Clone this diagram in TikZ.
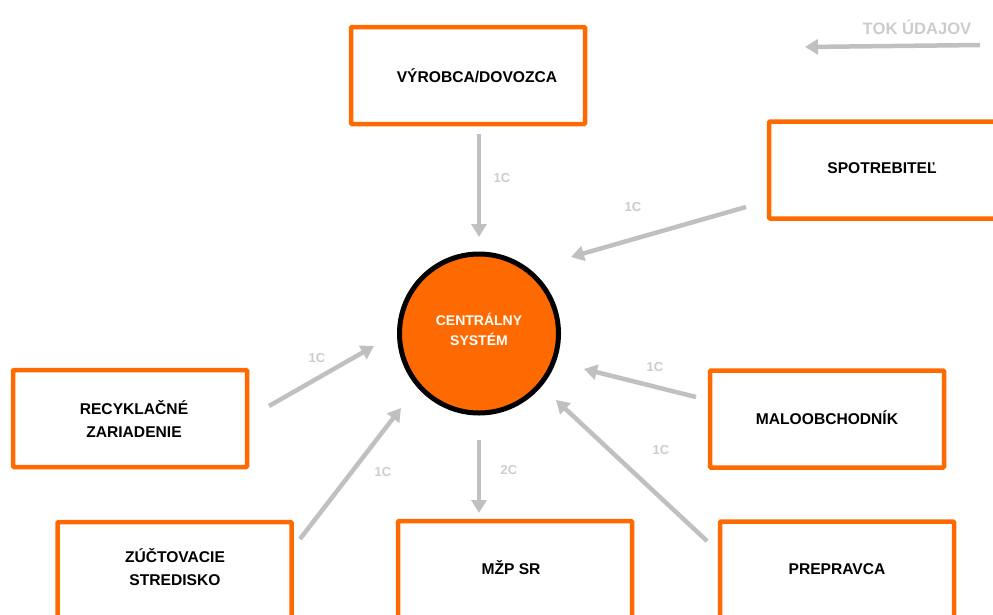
\documentclass[tikz,border=0pt]{standalone}
\usepackage{fontspec}
\setmainfont{Liberation Sans}
\usetikzlibrary{arrows.meta}
\definecolor{brandorange}{HTML}{FF6A00}
\definecolor{flowgrey}{HTML}{C0C0C0}
\definecolor{labelgrey}{HTML}{CCCCCC}
\tikzset{
  actorbox/.style={draw=brandorange,line width=4.5pt,fill=white,rounded corners=1pt,minimum width=234pt,minimum height=97pt,inner sep=0pt,outer sep=0pt},
  actortext/.style={font=\fontsize{15.6}{23}\selectfont\bfseries,text=black,align=center,inner sep=0pt},
  hubtext/.style={font=\fontsize{14}{20}\selectfont\bfseries,text=white,align=center,inner sep=0pt},
  flowlabel/.style={font=\fontsize{13}{15}\selectfont\bfseries,text=labelgrey,inner sep=0pt},
  flow/.style={draw=flowgrey,line width=4.5pt,-{Triangle[length=13pt,width=15pt]}},
  hub/.style={circle,draw=black,line width=5pt,fill=brandorange,minimum size=159pt,inner sep=0pt,outer sep=0pt}
}
\begin{document}
\begin{tikzpicture}[x=1pt,y=-1pt]
\clip (0,0) rectangle (993,614);
\node[hub] (sys) at (479,333.5) {};
\node[hubtext] (systext) at (479,329) {CENTRÁLNY\\SYSTÉM};
\node[actorbox] (vyrobca) at (468,75.5) {};
\node[actortext] (vyrobcat) at (477,76) {VÝROBCA/DOVOZCA};
\node[actorbox] (spotreb) at (886,170) {};
\node[actortext] (spotrebt) at (882,168) {SPOTREBITEĽ};
\node[actorbox] (recyk) at (130,418.5) {};
\node[actortext] (recykt) at (134,419.5) {RECYKLAČNÉ\\ZARIADENIE};
\node[actorbox] (zuct) at (174.5,570.5) {};
\node[actortext] (zuctt) at (175,567.5) {ZÚČTOVACIE\\STREDISKO};
\node[actorbox] (mzp) at (515,569.5) {};
\node[actortext] (mzpt) at (511,568) {MŽP SR};
\node[actorbox] (prepr) at (837,570) {};
\node[actortext] (preprt) at (837,569) {PREPRAVCA};
\node[actorbox] (malo) at (827,419) {};
\node[actortext] (malot) at (827,418) {MALOOBCHODNÍK};
% connectors
\draw[flow] ([shift={(11,58.5)}]vyrobca.center) -- ([shift={(0,-96.5)}]sys.center);
\draw[flow] ([shift={(-140,37)}]spotreb.center) -- ([shift={(92,-76.5)}]sys.center);
\draw[flow] ([shift={(-131,-22)}]malo.center) -- ([shift={(105,35.5)}]sys.center);
\draw[flow] ([shift={(-130,-29)}]prepr.center) -- ([shift={(77,66.5)}]sys.center);
\draw[flow] ([shift={(0,106.5)}]sys.center) -- ([shift={(-36,-56.5)}]mzp.center);
\draw[flow] ([shift={(125.5,-31.5)}]zuct.center) -- ([shift={(-78,74.5)}]sys.center);
\draw[flow] ([shift={(139,-12.5)}]recyk.center) -- ([shift={(-105,12.5)}]sys.center);
% legend
\coordinate (legstart) at (980,45);
\coordinate (legend) at (805,47);
\draw[flow] (legstart) -- (legend);
\node[flowlabel,font=\fontsize{16.6}{18}\selectfont\bfseries] (legtext) at (917,27) {TOK ÚDAJOV};
% labels
\node[flowlabel] (l1) at (502,178) {1C};
\node[flowlabel] (l2) at (633,207) {1C};
\node[flowlabel] (l3) at (655,367) {1C};
\node[flowlabel] (l4) at (661,450) {1C};
\node[flowlabel] (l5) at (509,470) {2C};
\node[flowlabel] (l6) at (383,472) {1C};
\node[flowlabel] (l7) at (317,358) {1C};
\end{tikzpicture}
\end{document}
